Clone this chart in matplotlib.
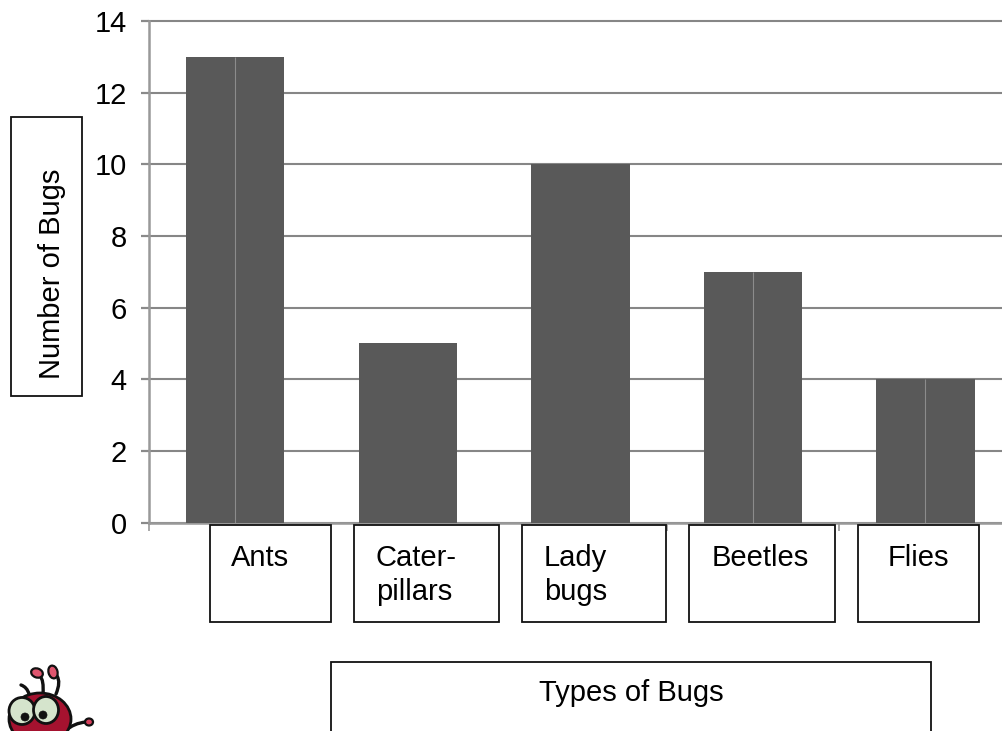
import matplotlib
matplotlib.use("Agg")
import matplotlib.pyplot as plt
from matplotlib.patches import Rectangle, Ellipse, PathPatch
from matplotlib.path import Path

plt.rcParams['font.family'] = ['Liberation Sans', 'DejaVu Sans']

categories = ["Ants", "Cater-\npillars", "Lady\nbugs", "Beetles", "Flies"]
counts = [13, 5, 10, 7, 4]
has_centre_line = [True, False, False, True, True]
y_ticks = [0, 2, 4, 6, 8, 10, 12, 14]
y_title = "Number of Bugs"
x_title = "Types of Bugs"

W, H = 1002, 731
FS = 21
fig = plt.figure(figsize=(W / 100, H / 100), dpi=100, facecolor="white")

# Chart axes
ax = fig.add_axes([149 / W, 1 - 522.5 / H, (W - 149) / W, (522.5 - 21) / H])
positions = list(range(len(counts)))
ax.bar(positions, counts, width=0.57, color="#595959", zorder=3)
for p, c, show in zip(positions, counts, has_centre_line):
    if show:
        ax.vlines(p, 0, c, color="#8c8c8c", lw=0.8, zorder=4)
ax.set_yticks(y_ticks)
ax.set_yticklabels([str(v) for v in y_ticks], fontsize=FS, color="black")
ax.tick_params(axis="y", length=6, width=1.6, color="#8a8a8a", pad=10)
ax.set_xticks([p - 0.5 for p in positions])
ax.set_xticklabels([])
ax.tick_params(axis="x", length=5.5, width=1.2, color="#999999")
ax.set_xlim(-0.5, (W - 235.5) / 172.5)
ax.set_ylim(0, 14)
ax.grid(axis="y", color="#868686", lw=1.5, zorder=1, clip_on=False)
ax.set_axisbelow(True)
for s in ("top", "right"):
    ax.spines[s].set_visible(False)
for s in ("left", "bottom"):
    ax.spines[s].set_color("#999999")
    ax.spines[s].set_linewidth(1.8)

# Overlay in pixel coordinates for the text boxes and the mascot
ov = fig.add_axes([0, 0, 1, 1], facecolor="none")
ov.set_xlim(0, W)
ov.set_ylim(H, 0)
ov.axis("off")

def box(x0, y0, x1, y1):
    ov.add_patch(Rectangle((x0, y0), x1 - x0, y1 - y0, fc="white", ec="#111111", lw=1.3, zorder=5))

label_boxes = [(210, 331, 231), (354, 499, 376), (522, 666, 544), (689, 835, 712), (858, 979, 888)]
for (x0, x1, tx), name in zip(label_boxes, categories):
    box(x0, 525, x1, 621.5)
    ov.text(tx, 544, name, fontsize=FS, va="top", ha="left", color="black",
            linespacing=1.27, zorder=6)

box(11, 117, 82, 396)
ov.text(52, 274, y_title, fontsize=FS, rotation=90, va="center", ha="center", color="black", zorder=6)

box(331, 662, 931, 745)
ov.text(631, 693, x_title, fontsize=FS, va="center", ha="center", color="black", zorder=6)

# Mascot
def curve(pts, color="#111111", lw=2.4, z=7):
    codes = [Path.MOVETO] + [Path.CURVE3] * (len(pts) - 1)
    ov.add_patch(PathPatch(Path(pts, codes), fc="none", ec=color, lw=lw, zorder=z, capstyle="round"))

def blob(cx, cy, w, h, fc, lw=1.6, angle=0, z=8):
    ov.add_patch(Ellipse((cx, cy), w, h, angle=angle, fc=fc, ec="#111111", lw=lw, zorder=z))

curve([(43, 694), (44, 680), (40, 676)])
curve([(56, 694), (61, 682), (57, 676)])
curve([(29, 694), (27, 687), (21, 685)])
curve([(65, 731), (74, 723), (86, 722)])
blob(37, 673, 12, 9, "#e0566f", angle=20)
blob(53, 672, 9, 13, "#e0566f", angle=-15)
blob(89, 722, 8, 7, "#d8405c")
blob(40, 719, 62, 52, "#a5122f", lw=2.0, z=7)
blob(22, 711, 26, 27, "#d5e4cc", lw=2.0)
blob(46, 710, 25, 27, "#d5e4cc", lw=2.0)
blob(25, 717, 8, 8, "#111111", lw=0.5, z=9)
blob(43, 715, 8, 8, "#111111", lw=0.5, z=9)

fig.savefig("out.png", dpi=100, facecolor="white")
